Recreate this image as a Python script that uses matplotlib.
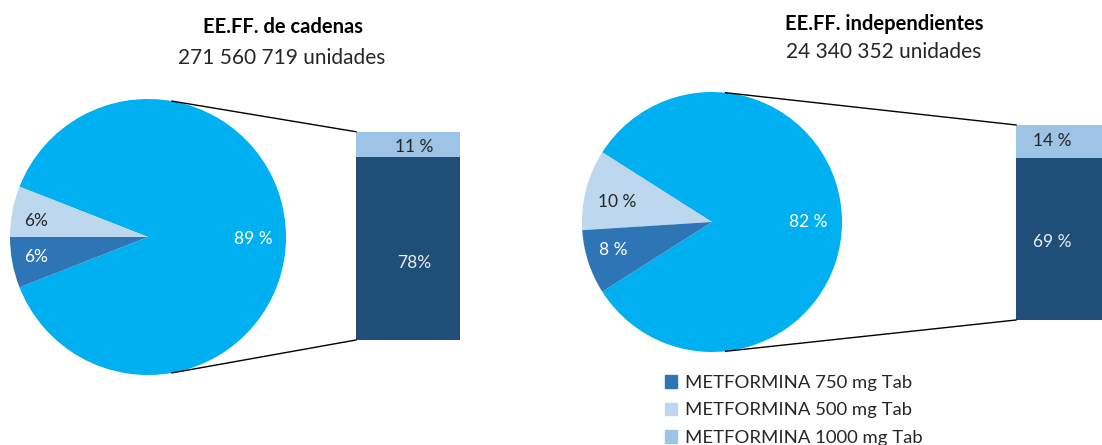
import matplotlib
matplotlib.use("Agg")
import matplotlib.pyplot as plt
from matplotlib.patches import Patch
import numpy as np

plt.rcParams['font.family'] = ['Lato', 'DejaVu Sans']

# ---- data ----
titles = ["EE.FF. de cadenas", "EE.FF. independientes"]
subtitles = ["271 560 719 unidades", "24 340 352 unidades"]
pie_labels = ["Otros", "METFORMINA 500 mg Tab", "METFORMINA 750 mg Tab"]
pie_left = [89, 6, 6]
pie_right = [82, 10, 8]
pie_left_txt = ["89 %", "6%", "6%"]
pie_right_txt = ["82 %", "10 %", "8 %"]
bar_labels = ["METFORMINA 850 mg Tab", "METFORMINA 1000 mg Tab"]
bar_left = [78, 11]
bar_right = [69, 14]
bar_left_txt = ["78%", "11 %"]
bar_right_txt = ["69 %", "14 %"]
legend_labels = ["METFORMINA 750 mg Tab", "METFORMINA 500 mg Tab", "METFORMINA 1000 mg Tab"]

# ---- style ----
C_OTHER = "#00b0f0"
C_500 = "#bdd7ee"
C_750 = "#2e75b6"
C_850 = "#1f4e79"
C_1000 = "#9dc3e6"
TXT = "#262626"
W, H = 1102, 445

fig = plt.figure(figsize=(W / 100, H / 100), dpi=100)
ax = fig.add_axes([0, 0, 1, 1])


def pie_of_bar(vals, txts, center, radius, bvals, btxts, bx, bw, by0, scale, conn_ang,
               lab_pos, blab_x, blab_dy):
    total = sum(vals)
    start = -vals[0] / total * 360 / 2
    ax.pie(vals, colors=[C_OTHER, C_500, C_750], center=center, radius=radius,
           startangle=start, counterclock=True, wedgeprops=dict(linewidth=0))
    cols = ["white", TXT, "white"]
    for (x, y), t, c in zip(lab_pos, txts, cols):
        ax.text(x, y, t, ha="center", va="center", color=c, fontsize=12.5)
    # bar
    bottoms = [by0, by0 + bvals[0] * scale]
    bcols = [C_850, C_1000]
    tcols = ["#e8eef5", TXT]
    for v, b, c, t, tc, dy in zip(bvals, bottoms, bcols, btxts, tcols, blab_dy):
        ax.bar(bx, v * scale, width=bw, bottom=b, color=c, align="edge", linewidth=0)
        ax.text(blab_x, b + v * scale / 2 + dy, t, ha="center", va="center", color=tc, fontsize=12.5)
    top = by0 + sum(bvals) * scale
    a = np.deg2rad(conn_ang)
    cx, cy = center
    ax.plot([cx + radius * np.cos(a), bx], [cy + radius * np.sin(a), top], color="black", lw=1)
    ax.plot([cx + radius * np.cos(a), bx], [cy - radius * np.sin(a), by0], color="black", lw=1)


pie_of_bar(pie_left, pie_left_txt, (148, 208), 138, bar_left, bar_left_txt,
           356, 104, 105, 2.34, 80,
           [(253, 206), (36, 224), (36, 188)], 414, [-14, -2])
pie_of_bar(pie_right, pie_right_txt, (712, 223), 130, bar_right, bar_right_txt,
           1016, 104, 125, 2.35, 84,
           [(808, 223), (617, 243), (613, 195)], 1052, [-3, 0])

ax.text(283, 418, titles[0], ha="center", va="center", fontsize=14.5, fontweight="bold", color="black")
ax.text(282, 387, subtitles[0], ha="center", va="center", fontsize=15, color=TXT)
ax.text(884, 421, titles[1], ha="center", va="center", fontsize=14.5, fontweight="bold", color="black")
ax.text(884, 393, subtitles[1], ha="center", va="center", fontsize=15, color=TXT)

handles = [Patch(color=C_750), Patch(color=C_500), Patch(color=C_1000)]
ax.legend(handles, legend_labels, loc="upper left", bbox_to_anchor=(665 / W, 70 / H),
          frameon=False, fontsize=13.3, handlelength=0.65, handleheight=0.65,
          handletextpad=0.45, labelspacing=0.62, borderpad=0, borderaxespad=0,
          labelcolor=TXT)

ax.set_xlim(0, W)
ax.set_ylim(0, H)
ax.set_aspect("equal")
ax.axis("off")
fig.savefig("out.png", dpi=100)
